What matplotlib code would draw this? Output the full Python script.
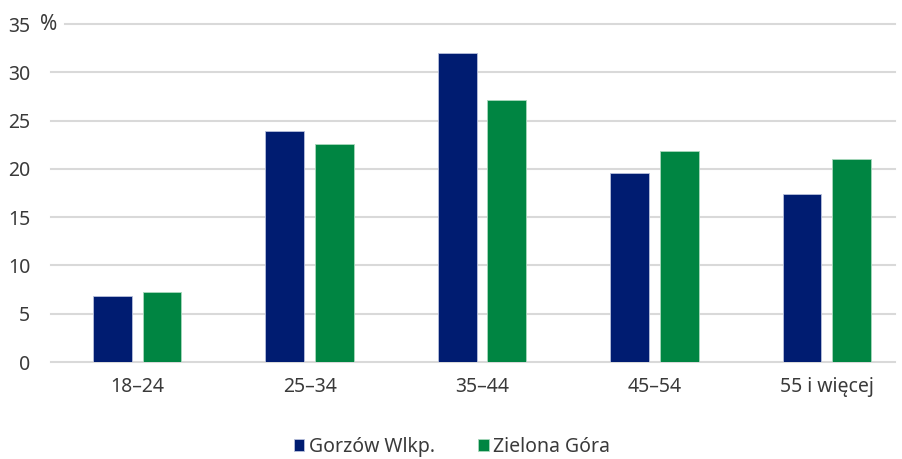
import matplotlib
matplotlib.use("Agg")
import matplotlib.pyplot as plt
import numpy as np

categories = ["18–24", "25–34", "35–44", "45–54", "55 i więcej"]
gorzow = [6.8, 23.9, 32.0, 19.6, 17.4]
zielona = [7.2, 22.6, 27.1, 21.8, 21.0]
series_names = ["Gorzów Wlkp.", "Zielona Góra"]
yticks = [0, 5, 10, 15, 20, 25, 30, 35]

plt.rcParams['font.family'] = ['Noto Sans', 'DejaVu Sans']
txt = '#3a3a3a'
fs = 14

fig = plt.figure(figsize=(9.02, 4.59), dpi=100)
L, R = 51, 913
ax = fig.add_axes([L/902, 1-362/459, (R-L)/902, (362-24)/459])

x = np.arange(len(categories))
w = 0.225
off = 0.144
c1 = '#001C71'
c2 = '#008542'
ax.bar(x - off, gorzow, w, color=c1, edgecolor='#b8c0dc', linewidth=0.6, label=series_names[0], zorder=3)
ax.bar(x + off, zielona, w, color=c2, edgecolor='#a8d8bc', linewidth=0.6, label=series_names[1], zorder=3)

ax.set_xlim(-0.5, 4.5)
ax.set_ylim(0, 35)
xmax = (895-L)/(R-L)
for t in yticks:
    xmin = (65-L)/(R-L) if t == 35 else 0
    ax.axhline(t, xmin=xmin, xmax=xmax, color='#d9d9d9', lw=1.5, zorder=1, clip_on=False)

ax.set_yticks(yticks)
ax.set_yticklabels([str(t) for t in yticks])
ax.set_xticks(x)
ax.set_xticklabels(categories)
ax.tick_params(axis='both', length=0, labelsize=fs, colors=txt)
ax.tick_params(axis='y', pad=15)
ax.tick_params(axis='x', pad=11)
for s in ax.spines.values():
    s.set_visible(False)

fig.text(40/902, 1-25/459, "%", fontsize=fs+1, color=txt, ha='left', va='center')

leg = fig.legend(loc='center', bbox_to_anchor=(452/902, 1-447/459), ncol=2, frameon=False,
                 fontsize=fs, handlelength=0.55, handleheight=0.55, handletextpad=0.25,
                 columnspacing=2.2, labelcolor=txt)

fig.savefig("out.png", dpi=100)
